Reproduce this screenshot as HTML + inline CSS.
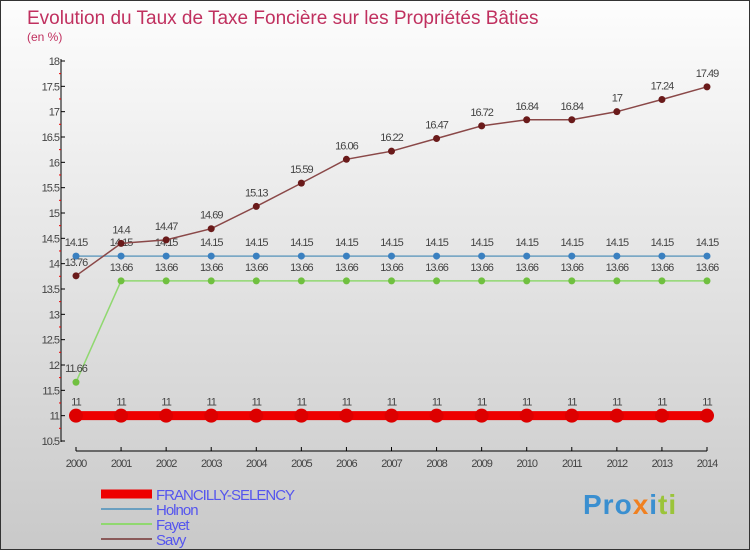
<!DOCTYPE html>
<html><head><meta charset="utf-8"><style>
body{margin:0}
#c{width:750px;height:550px;position:relative;overflow:hidden;box-sizing:border-box;border:1px solid #333;background:linear-gradient(#fdfdfd,#c9c9c9);font-family:"Liberation Sans",sans-serif}
svg text{font-family:"Liberation Sans",sans-serif}
</style></head><body>
<div id="c">
<svg id="s" width="750" height="550">
<text x="26" y="23" font-size="19" fill="#c0305f">Evolution du Taux de Taxe Foncière sur les Propriétés Bâties</text>
<text x="26" y="40" font-size="12" fill="#c0305f">(en %)</text>
</svg>
<div style="position:absolute;left:582px;top:488px;font-size:28px;font-weight:bold;letter-spacing:1px"><span style="color:#3a8fd0">Pro</span><span style="color:#f08020">x</span><span style="color:#3a8fd0">i</span><span style="color:#9bc43a">ti</span></div>
</div>
<script>
const years=[2000,2001,2002,2003,2004,2005,2006,2007,2008,2009,2010,2011,2012,2013,2014];
const yTicks=[10.5,11,11.5,12,12.5,13,13.5,14,14.5,15,15.5,16,16.5,17,17.5,18];
const francilly=[11,11,11,11,11,11,11,11,11,11,11,11,11,11,11];
const holnon=[14.15,14.15,14.15,14.15,14.15,14.15,14.15,14.15,14.15,14.15,14.15,14.15,14.15,14.15,14.15];
const fayet=[11.66,13.66,13.66,13.66,13.66,13.66,13.66,13.66,13.66,13.66,13.66,13.66,13.66,13.66,13.66];
const savy=[13.76,14.4,14.47,14.69,15.13,15.59,16.06,16.22,16.47,16.72,16.84,16.84,17,17.24,17.49];
const s=document.getElementById('s');const NS='http://www.w3.org/2000/svg';
const X=i=>75+i*(706-75)/(years.length-1);
const Y=v=>60+(18-v)*(380/7.5);
function mk(t,a,p){const e=document.createElementNS(NS,t);for(const k in a)e.setAttribute(k,a[k]);(p||s).appendChild(e);return e;}
const ax=mk('g',{});


mk('line',{x1:60,y1:58,x2:60,y2:441,stroke:'#000'},ax);
mk('line',{x1:75,y1:450,x2:706,y2:450,stroke:'#000'},ax);
yTicks.forEach(v=>{const y=Y(v);mk('line',{x1:60,y1:y,x2:64,y2:y,stroke:'#000'},ax);
 if(v<18)mk('line',{x1:58,y1:y-12.7,x2:60,y2:y-12.7,stroke:'#e00'},ax);
 const t=mk('text',{x:58,y:y+4,'text-anchor':'end','font-size':11,fill:'#444','letter-spacing':'-1'},ax);t.textContent=String(v);
 
 });
years.forEach((yr,i)=>{const x=X(i);mk('line',{x1:x,y1:446,x2:x,y2:450,stroke:'#000'},ax);
 const t=mk('text',{x:x,y:466,'text-anchor':'middle','font-size':11,fill:'#444','letter-spacing':'-1'},ax);t.textContent=yr;
 
 });
function series(name,data,col,w,r,dot){const g=mk('g',{});
 
 
 mk('polyline',{points:data.map((v,i)=>X(i)+','+Y(v)).join(' '),fill:'none',stroke:col,'stroke-width':w},g);
 data.forEach((v,i)=>{const c=mk('circle',{cx:X(i),cy:Y(v),r:r,fill:dot},g);
  
  
  const t=mk('text',{x:X(i),y:Y(v)-10,'text-anchor':'middle','font-size':11,fill:'#444','letter-spacing':'-1'},g);t.textContent=String(v);
  
  });}
series('francilly',francilly,'#ee0000',9,7,'#dd0000');
series('holnon',holnon,'#6a9fc0',1.5,3.5,'#3a80c0');
series('fayet',fayet,'#90d870',1.5,3.5,'#70c040');
series('savy',savy,'#8a4848',1.5,3.5,'#6a1a1a');
const leg=[['FRANCILLY-SELENCY','#ee0000',9,493],['Holnon','#6a9fc0',2,508],['Fayet','#90d870',2,523],['Savy','#8a5a5a',2,538]];
leg.forEach(l=>{const g=mk('g',{});
 
 
 mk('line',{x1:100,y1:l[3],x2:151,y2:l[3],stroke:l[1],'stroke-width':l[2]},g);
 const t=mk('text',{x:155,y:l[3]+6,'font-size':15,fill:'#5555ee','letter-spacing':'-1'},g);t.textContent=l[0];});
</script>
</body></html>
